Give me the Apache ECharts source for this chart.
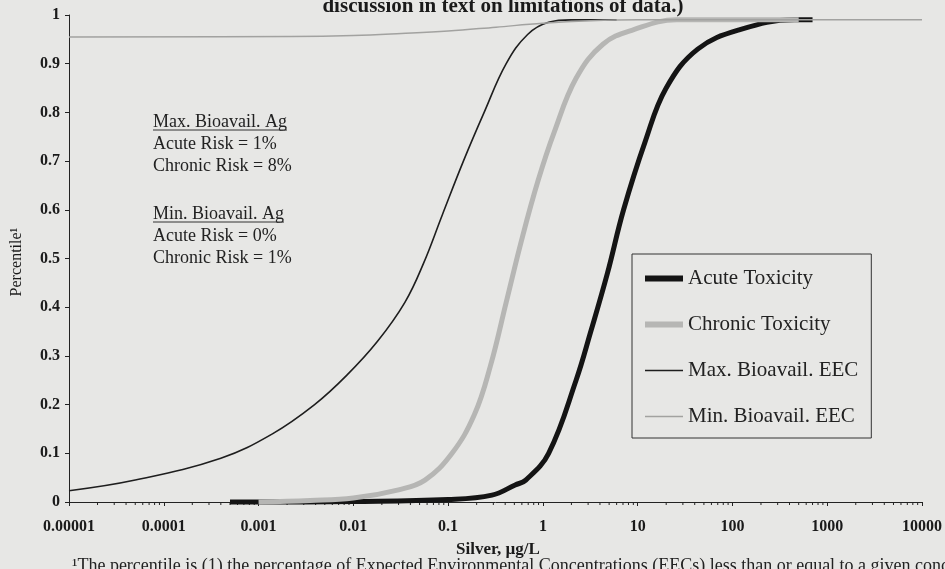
<!DOCTYPE html>
<html>
<head>
<meta charset="utf-8">
<script src="https://cdn.jsdelivr.net/npm/echarts@6/dist/echarts.min.js"></script>
<style>
  html, body { margin: 0; padding: 0; background: #e7e7e5; }
  #chart { width: 945px; height: 569px; }
</style>
</head>
<body>
<div id="chart"></div>
<script>
// Cumulative distributions of silver concentrations (µg/L) vs. percentile
const acuteConc   = [0.0005, 0.001, 0.01, 0.1, 0.29, 0.51, 0.66, 1.15, 2.24, 3.2, 4.8, 7.1, 12, 20, 43, 120, 450, 700];
const acutePct    = [0, 0, 0.001, 0.005, 0.014, 0.035, 0.045, 0.1, 0.25, 0.35, 0.47, 0.6, 0.74, 0.85, 0.93, 0.97, 0.99, 0.99];

const chronicConc = [0.001, 0.0035, 0.01, 0.03, 0.057, 0.11, 0.19, 0.28, 0.41, 0.6, 0.89, 1.32, 2.24, 4.3, 9.1, 25.7, 500];
const chronicPct  = [0, 0.003, 0.008, 0.025, 0.045, 0.1, 0.18, 0.28, 0.41, 0.54, 0.66, 0.76, 0.87, 0.94, 0.97, 0.99, 0.99];

const maxEecConc  = [0.00001, 0.00005, 0.0004, 0.0014, 0.0039, 0.0085, 0.018, 0.035, 0.055, 0.087, 0.145, 0.24, 0.41, 0.69, 1.15, 2, 6];
const maxEecPct   = [0.023, 0.045, 0.09, 0.14, 0.2, 0.26, 0.33, 0.41, 0.49, 0.59, 0.70, 0.80, 0.90, 0.96, 0.985, 0.99, 0.99];

const minEecConc  = [0.00001, 0.0022, 0.01, 0.032, 0.1, 0.32, 1, 3.2, 10, 10000];
const minEecPct   = [0.955, 0.956, 0.958, 0.962, 0.967, 0.975, 0.983, 0.988, 0.99, 0.99];

const seriesNames = ['Acute Toxicity', 'Chronic Toxicity', 'Max. Bioavail. EEC', 'Min. Bioavail. EEC'];
const xTickLabels = ['0.00001', '0.0001', '0.001', '0.01', '0.1', '1', '10', '100', '1000', '10000'];
const yTickLabels = ['0', '0.1', '0.2', '0.3', '0.4', '0.5', '0.6', '0.7', '0.8', '0.9', '1'];

const noteLines = [
  { text: 'Max. Bioavail. Ag', underline: true },
  { text: 'Acute Risk = 1%' },
  { text: 'Chronic Risk = 8%' },
  { text: 'Min. Bioavail. Ag', underline: true },
  { text: 'Acute Risk = 0%' },
  { text: 'Chronic Risk = 1%' }
];

// Minor log ticks (2..9 within each decade) along the x axis
const decadeStarts = [0.00001, 0.0001, 0.001, 0.01, 0.1, 1, 10, 100, 1000];
const minorSteps = [2, 3, 4, 5, 6, 7, 8, 9];
const minorTicks = [];
decadeStarts.forEach(d => minorSteps.forEach(m => minorTicks.push([+(d * m).toPrecision(3), 0])));

const SERIF = "'Liberation Serif', 'Times New Roman', serif";
const COLORS = ['#141414', '#b6b6b4', '#1e1e1e', '#a2a2a0'];
const WIDTHS = [5, 5, 1.6, 1.5];

function pairs(xs, ys) { return xs.map((x, i) => [x, ys[i]]); }

function textWidth(str, font) {
  const c = document.createElement('canvas').getContext('2d');
  c.font = font;
  return c.measureText(str).width;
}

// legend swatch: a bar whose height equals the line width
function swatch(h) { return 'path://M0,0H38V' + h + 'H0Z'; }

const chart = echarts.init(document.getElementById('chart'), null, { renderer: 'canvas' });

// annotation block
const noteX = 153;
const noteBaselines = [128, 150, 172.5, 220, 242, 264.5];
const noteGraphics = [];
noteLines.forEach((ln, i) => {
  noteGraphics.push({
    type: 'text', left: noteX, top: noteBaselines[i] - 15,
    style: { text: ln.text, font: "18px " + SERIF, fill: '#222' }
  });
  if (ln.underline) {
    const w = textWidth(ln.text, "18px 'Liberation Serif'");
    noteGraphics.push({
      type: 'line',
      shape: { x1: noteX, y1: noteBaselines[i] + 2, x2: noteX + w, y2: noteBaselines[i] + 2 },
      style: { stroke: '#333', lineWidth: 1 }
    });
  }
});

function lineSeries(i, xs, ys, z) {
  return {
    name: seriesNames[i], type: 'line', data: pairs(xs, ys),
    showSymbol: false, symbol: 'none', smooth: 0.4, clip: false,
    lineStyle: { color: COLORS[i], width: WIDTHS[i] },
    itemStyle: { color: COLORS[i] }, z: z
  };
}

const option = {
  backgroundColor: '#e7e7e5',
  animation: false,
  grid: { left: 69, right: 18, top: 15, bottom: 67, containLabel: false },
  title: {
    text: 'discussion in text on limitations of data.)',
    left: 498, top: -9, textAlign: 'center',
    textStyle: { fontFamily: SERIF, fontWeight: 'bold', fontSize: 21, color: '#1a1a1a' }
  },
  legend: {
    orient: 'vertical',
    left: 632, top: 254,
    padding: [14, 13, 11, 13],
    itemGap: 25,
    itemWidth: 38,
    itemHeight: 20,
    borderColor: '#333', borderWidth: 1,
    textStyle: { fontFamily: SERIF, fontSize: 21, color: '#222' },
    data: seriesNames.map((n, i) => ({ name: n, icon: swatch(WIDTHS[i] + (i < 2 ? 1 : 0)) }))
  },
  xAxis: {
    type: 'log', logBase: 10,
    min: 0.00001, max: 10000,
    splitNumber: 10,
    axisLine: { lineStyle: { color: '#222', width: 1 } },
    axisTick: { length: 4, lineStyle: { color: '#222' } },
    splitLine: { show: false },
    axisLabel: {
      margin: 17,
      fontFamily: SERIF, fontWeight: 'bold', fontSize: 16, color: '#1a1a1a',
      formatter: v => xTickLabels[Math.round(Math.log10(v)) + 5] || ''
    }
  },
  yAxis: {
    type: 'value', min: 0, max: 1, interval: 0.1,
    axisLine: { show: true, lineStyle: { color: '#222', width: 1 } },
    axisTick: { show: true, length: 4, lineStyle: { color: '#222' } },
    splitLine: { show: false },
    axisLabel: {
      margin: 9,
      fontFamily: SERIF, fontWeight: 'bold', fontSize: 16, color: '#1a1a1a',
      formatter: v => yTickLabels[Math.round(v * 10)]
    }
  },
  graphic: [
    {
      type: 'text', x: 498, y: 541,
      style: { text: 'Silver, µg/L', font: "bold 17px " + SERIF, fill: '#1a1a1a', align: 'center' }
    },
    {
      type: 'text', x: 17, y: 262, rotation: Math.PI / 2,
      style: { text: 'Percentile¹', font: "16px " + SERIF, fill: '#1a1a1a', align: 'center', verticalAlign: 'middle' }
    },
    {
      type: 'text', left: 72, top: 557,
      style: { text: '¹The percentile is (1) the percentage of Expected Environmental Concentrations (EECs) less than or equal to a given concentration', font: "18px " + SERIF, fill: '#222' }
    }
  ].concat(noteGraphics),
  series: [
    lineSeries(0, acuteConc, acutePct, 3),
    lineSeries(1, chronicConc, chronicPct, 4),
    lineSeries(2, maxEecConc, maxEecPct, 5),
    lineSeries(3, minEecConc, minEecPct, 5),
    {
      type: 'custom', silent: true, clip: false, data: minorTicks,
      renderItem: (params, api) => {
        const p = api.coord([api.value(0), 0]);
        return { type: 'line', shape: { x1: p[0], y1: p[1], x2: p[0], y2: p[1] + 3 }, style: { stroke: '#222', lineWidth: 1 } };
      },
      z: 2
    }
  ]
};

chart.setOption(option);
</script>
</body>
</html>
